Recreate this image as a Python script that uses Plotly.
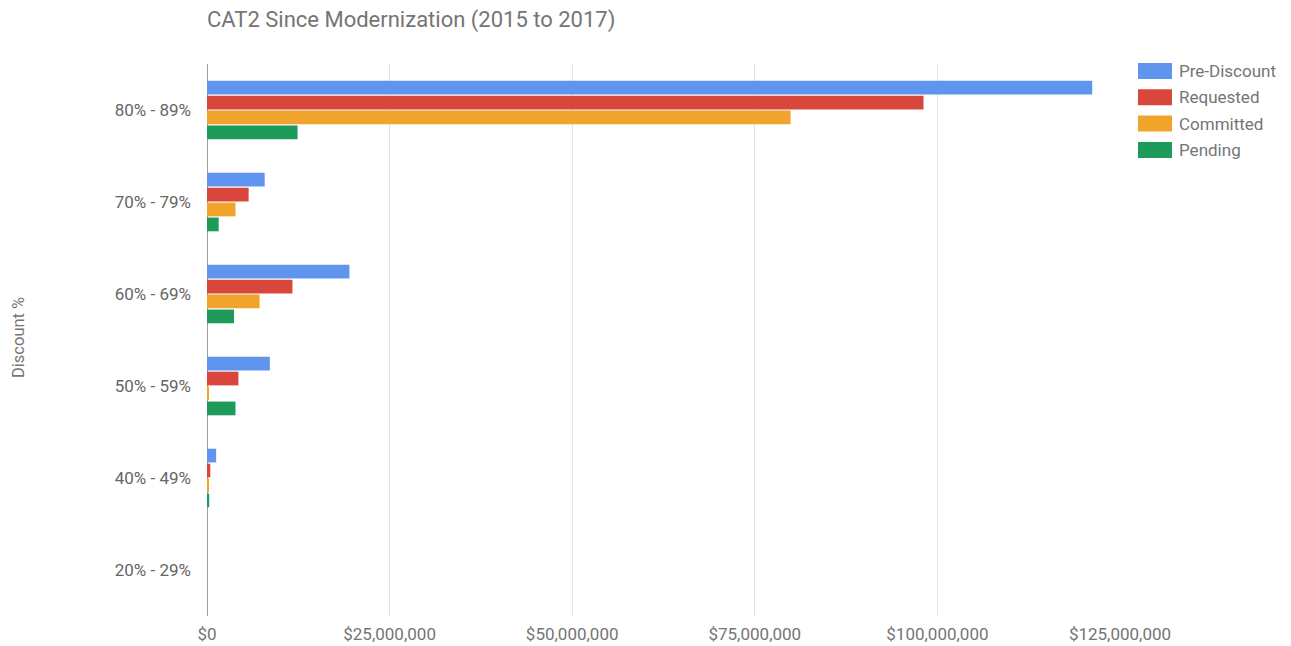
import plotly.graph_objects as go

# Discount bands, top to bottom
categories = ["80% - 89%", "70% - 79%", "60% - 69%", "50% - 59%", "40% - 49%", "20% - 29%"]

series_names = ["Pre-Discount", "Requested", "Committed", "Pending"]
series_colors = ["#5f95ef", "#d9473c", "#f0a42c", "#1e9a5a"]

# Dollar amounts per band
pre_discount = [121_200_000, 7_900_000, 19_500_000, 8_600_000, 1_250_000, 0]
requested = [98_100_000, 5_700_000, 11_700_000, 4_300_000, 450_000, 0]
committed = [79_900_000, 3_900_000, 7_200_000, 200_000, 150_000, 0]
pending = [12_400_000, 1_600_000, 3_700_000, 3_900_000, 300_000, 0]

series_values = [pre_discount, requested, committed, pending]

tick_vals = [0, 25_000_000, 50_000_000, 75_000_000, 100_000_000, 125_000_000]
tick_text = ["$0", "$25,000,000", "$50,000,000", "$75,000,000", "$100,000,000", "$125,000,000"]

FONT = "Roboto, Arial, sans-serif"
TEXT_GRAY = "#757575"

# Plot area in pixels
PL, PR, PT, PB = 207, 1120, 64, 616
PW, PH = PR - PL, PB - PT

fig = go.Figure()
for name, color, vals in zip(series_names, series_colors, series_values):
    fig.add_trace(go.Bar(
        y=categories, x=vals, name=name, orientation="h",
        marker=dict(color=color, line=dict(width=0)),
        showlegend=False,
    ))

# Legend drawn as wide swatches with labels to the right of the plot
for i, (name, color) in enumerate(zip(series_names, series_colors)):
    yc = 71 + i * 26.3
    fig.add_shape(
        type="rect", xref="paper", yref="paper",
        x0=(1138 - PL) / PW, x1=(1172 - PL) / PW,
        y0=1 - (yc + 8 - PT) / PH, y1=1 - (yc - 8 - PT) / PH,
        fillcolor=color, line=dict(width=0), layer="above",
    )
    fig.add_annotation(
        xref="paper", yref="paper",
        x=(1177 - PL) / PW, y=1 - (yc - PT) / PH,
        text=name, showarrow=False, xanchor="left", yanchor="middle",
        font=dict(family=FONT, size=17, color=TEXT_GRAY),
    )

# Title and vertical axis title
fig.add_annotation(
    xref="paper", yref="paper", x=-2 / PW, y=1 + (PT - 20) / PH,
    text="CAT2 Since Modernization (2015 to 2017)", showarrow=False,
    xanchor="left", yanchor="middle",
    font=dict(family=FONT, size=22, color=TEXT_GRAY),
)
fig.add_annotation(
    xref="paper", yref="paper", x=-(PL - 18) / PW, y=1 - (338 - PT) / PH,
    text="Discount %", showarrow=False, textangle=-90,
    xanchor="center", yanchor="middle",
    font=dict(family=FONT, size=16.5, color=TEXT_GRAY),
)

fig.update_layout(
    width=1291, height=646,
    margin=dict(l=PL, r=1291 - PR, t=PT, b=646 - PB, autoexpand=False),
    paper_bgcolor="white", plot_bgcolor="white",
    barmode="group", bargap=0.35, bargroupgap=0.08,
    font=dict(family=FONT, size=17, color=TEXT_GRAY),
    xaxis=dict(
        range=[0, 125_000_000], tickvals=tick_vals, ticktext=tick_text,
        showgrid=True, gridcolor="#e3e3e3", gridwidth=1,
        zeroline=True, zerolinecolor="#9e9e9e", zerolinewidth=1,
        showline=False, ticks="", ticklen=0, ticklabelstandoff=6,
        automargin=False,
        tickfont=dict(family=FONT, size=17, color=TEXT_GRAY),
    ),
    yaxis=dict(
        categoryorder="array", categoryarray=categories, autorange="reversed",
        showgrid=False, showline=False, ticks="", ticklabelstandoff=15,
        automargin=False,
        tickfont=dict(family=FONT, size=17, color="#666666"),
    ),
)

fig.write_html("out.html")
